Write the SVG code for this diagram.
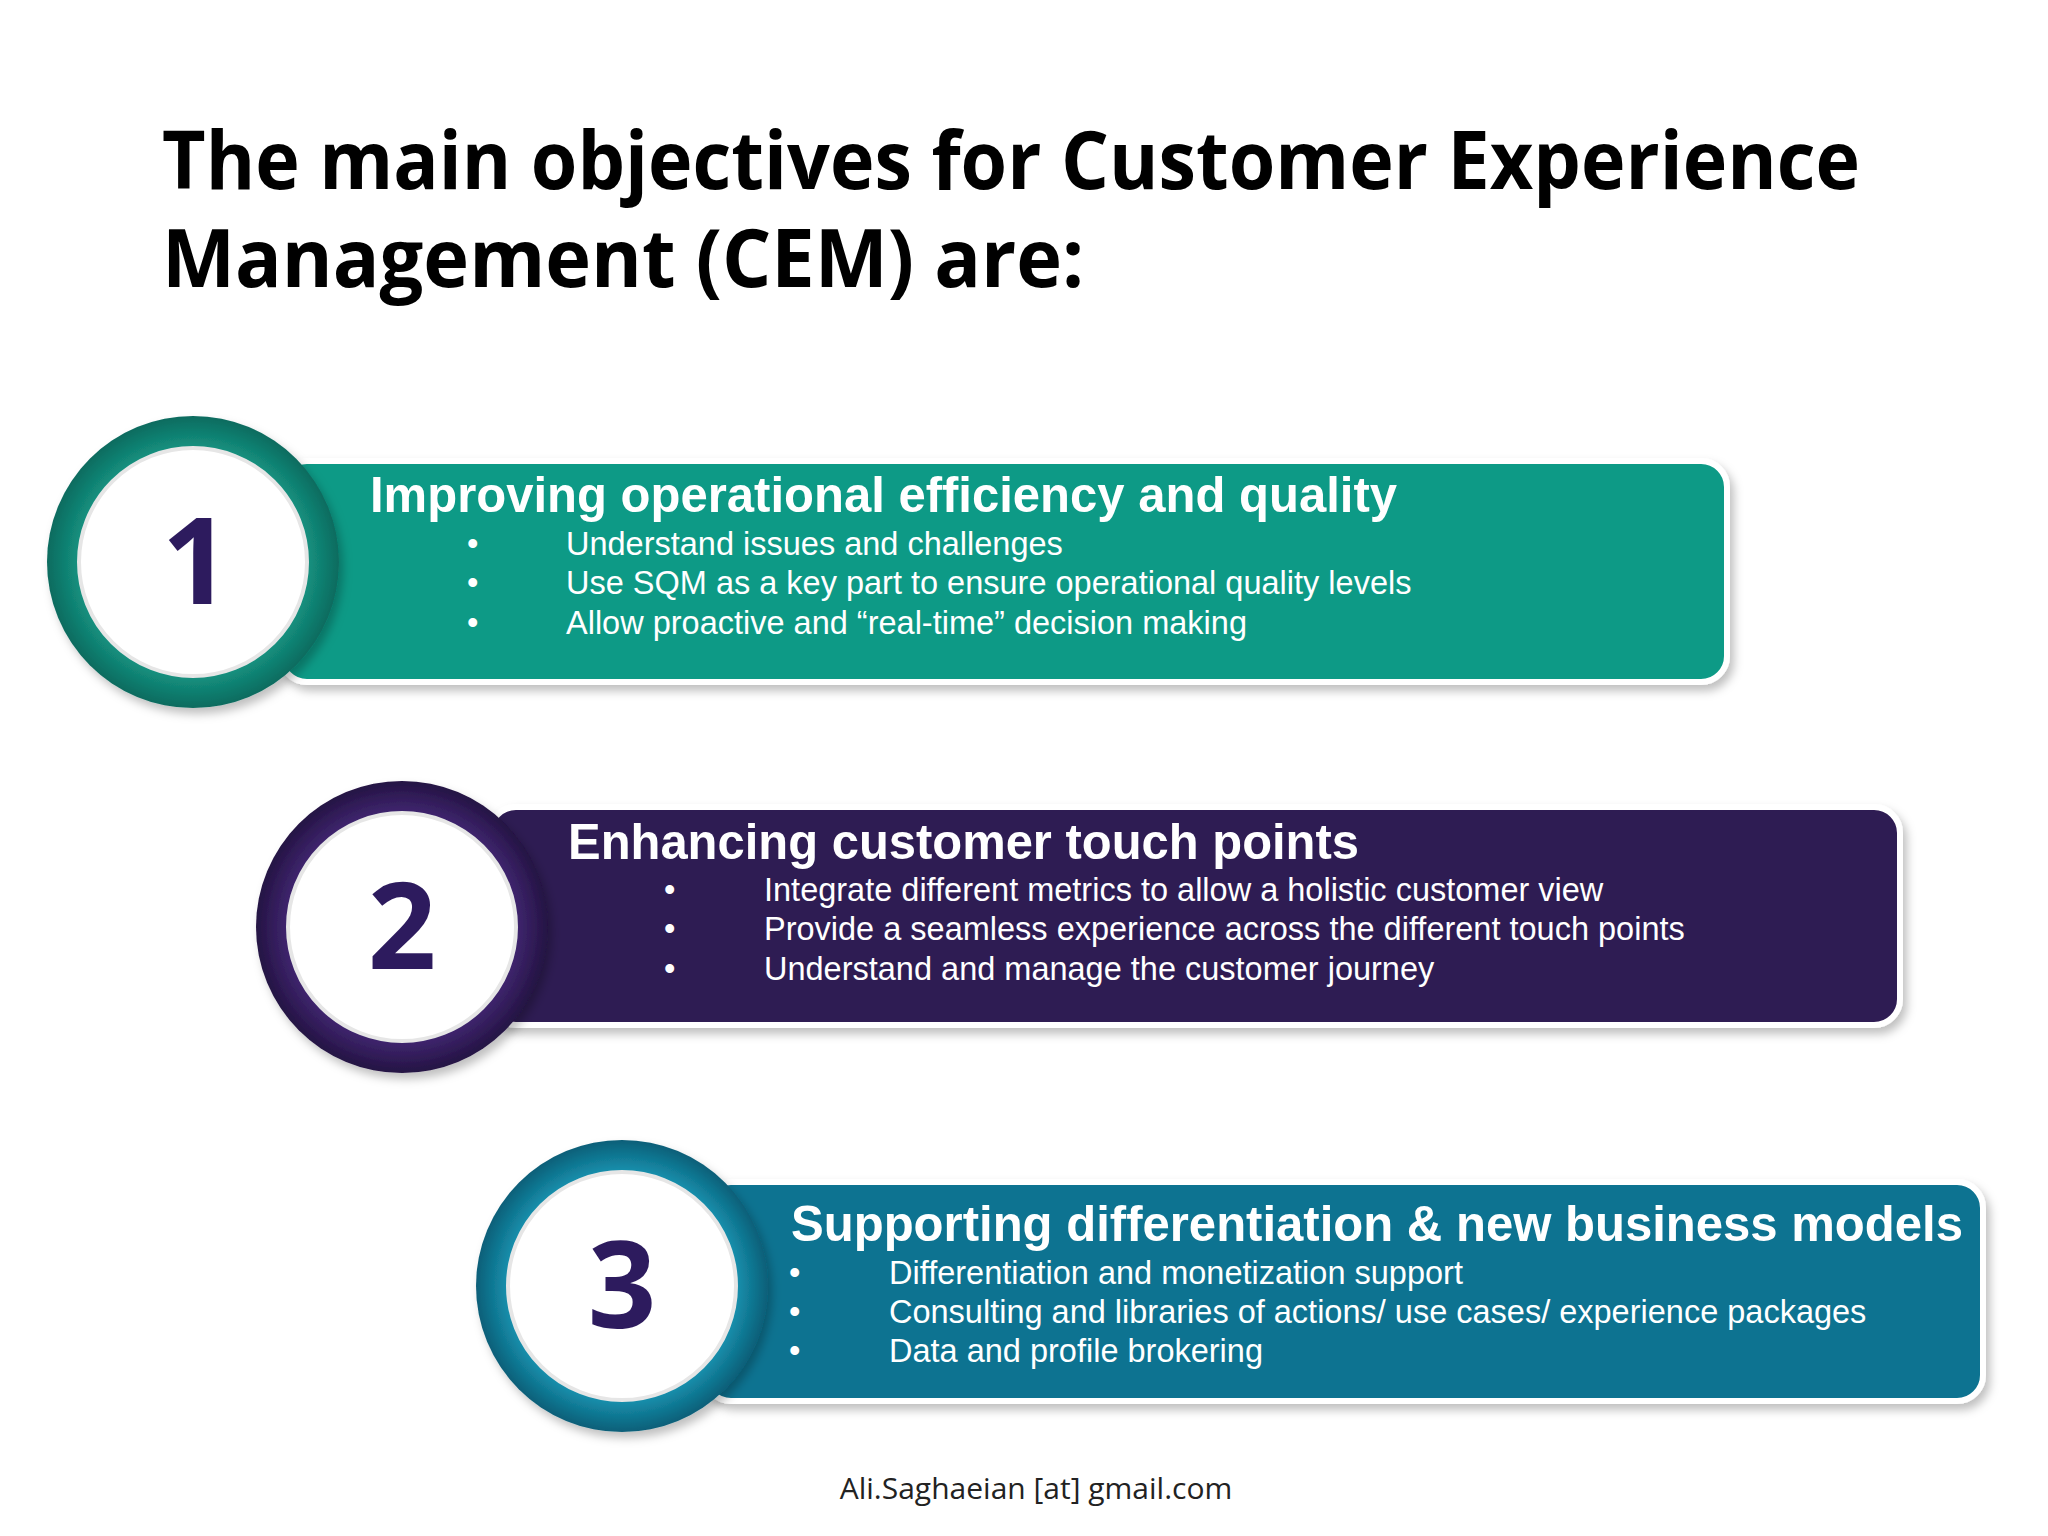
<svg xmlns="http://www.w3.org/2000/svg" width="2048" height="1536" viewBox="0 0 2048 1536">
<defs>
<style>
.title{font-family:"Open Sans","Liberation Sans",sans-serif;font-weight:bold;font-size:80px;fill:#000}
.head{font-family:"Liberation Sans",Arial,sans-serif;font-weight:bold;font-size:50px;fill:#fff}
.item{font-family:"Liberation Sans",Arial,sans-serif;font-size:32.5px;fill:#fff}
.num{font-family:"Open Sans","Liberation Sans",sans-serif;font-weight:bold;font-size:120px;fill:#2d1b5e;text-anchor:middle}
.foot{font-family:"Open Sans","Liberation Sans",sans-serif;font-size:30px;fill:#222;text-anchor:middle}
.inner{fill:#fff;stroke:#e6e6e6;stroke-width:4}
</style>
<filter id="sh" x="-10%" y="-10%" width="120%" height="130%"><feDropShadow dx="4" dy="6" stdDeviation="5" flood-color="#000" flood-opacity="0.25"/></filter>
<radialGradient id="g1"><stop offset="0.7" stop-color="#17a08c"/><stop offset="1" stop-color="#0c6b5f"/></radialGradient>
<radialGradient id="g2"><stop offset="0.7" stop-color="#4a2d80"/><stop offset="1" stop-color="#241343"/></radialGradient>
<radialGradient id="g3"><stop offset="0.7" stop-color="#1aa3c2"/><stop offset="1" stop-color="#0b5f78"/></radialGradient>
</defs>
<rect width="2048" height="1536" fill="#fff"/>
<text class="title" x="162" y="189" textLength="1698" lengthAdjust="spacingAndGlyphs">The main objectives for Customer Experience</text>
<text class="title" x="162" y="287" textLength="922" lengthAdjust="spacingAndGlyphs">Management (CEM) are:</text>

<g id="node1">
<rect x="281" y="461" width="1446" height="221" rx="26" fill="#0b9a86" stroke="#fff" stroke-width="6" filter="url(#sh)"/>
<circle cx="193" cy="562" r="146" fill="url(#g1)" filter="url(#sh)"/>
<circle class="inner" cx="193" cy="562" r="114"/>
<text class="num" x="196" y="604">1</text>
<text class="head" x="370" y="512" textLength="1027" lengthAdjust="spacingAndGlyphs">Improving operational efficiency and quality</text>
<text class="item" x="467" y="555">•</text><text class="item" x="566" y="555">Understand issues and challenges</text>
<text class="item" x="467" y="594">•</text><text class="item" x="566" y="594">Use SQM as a key part to ensure operational quality levels</text>
<text class="item" x="467" y="634">•</text><text class="item" x="566" y="634">Allow proactive and “real-time” decision making</text>
</g>

<g id="node2">
<rect x="490" y="807" width="1410" height="218" rx="26" fill="#2e1a52" stroke="#fff" stroke-width="6" filter="url(#sh)"/>
<circle cx="402" cy="927" r="146" fill="url(#g2)" filter="url(#sh)"/>
<circle class="inner" cx="402" cy="927" r="114"/>
<text class="num" x="402" y="969">2</text>
<text class="head" x="568" y="859" textLength="791" lengthAdjust="spacingAndGlyphs">Enhancing customer touch points</text>
<text class="item" x="664" y="901">•</text><text class="item" x="764" y="901">Integrate different metrics to allow a holistic customer view</text>
<text class="item" x="664" y="940">•</text><text class="item" x="764" y="940">Provide a seamless experience across the different touch points</text>
<text class="item" x="664" y="980">•</text><text class="item" x="764" y="980">Understand and manage the customer journey</text>
</g>

<g id="node3">
<rect x="705" y="1182" width="1278" height="219" rx="26" fill="#0a7391" stroke="#fff" stroke-width="6" filter="url(#sh)"/>
<circle cx="622" cy="1286" r="146" fill="url(#g3)" filter="url(#sh)"/>
<circle class="inner" cx="622" cy="1286" r="114"/>
<text class="num" x="622" y="1328">3</text>
<text class="head" x="791" y="1241" textLength="1172" lengthAdjust="spacingAndGlyphs">Supporting differentiation &amp; new business models</text>
<text class="item" x="789" y="1284">•</text><text class="item" x="889" y="1284">Differentiation and monetization support</text>
<text class="item" x="789" y="1323">•</text><text class="item" x="889" y="1323">Consulting and libraries of actions/ use cases/ experience packages</text>
<text class="item" x="789" y="1362">•</text><text class="item" x="889" y="1362">Data and profile brokering</text>
</g>

<g id="connectors"></g>
<text class="foot" x="1036" y="1499">Ali.Saghaeian [at] gmail.com</text>
</svg>
